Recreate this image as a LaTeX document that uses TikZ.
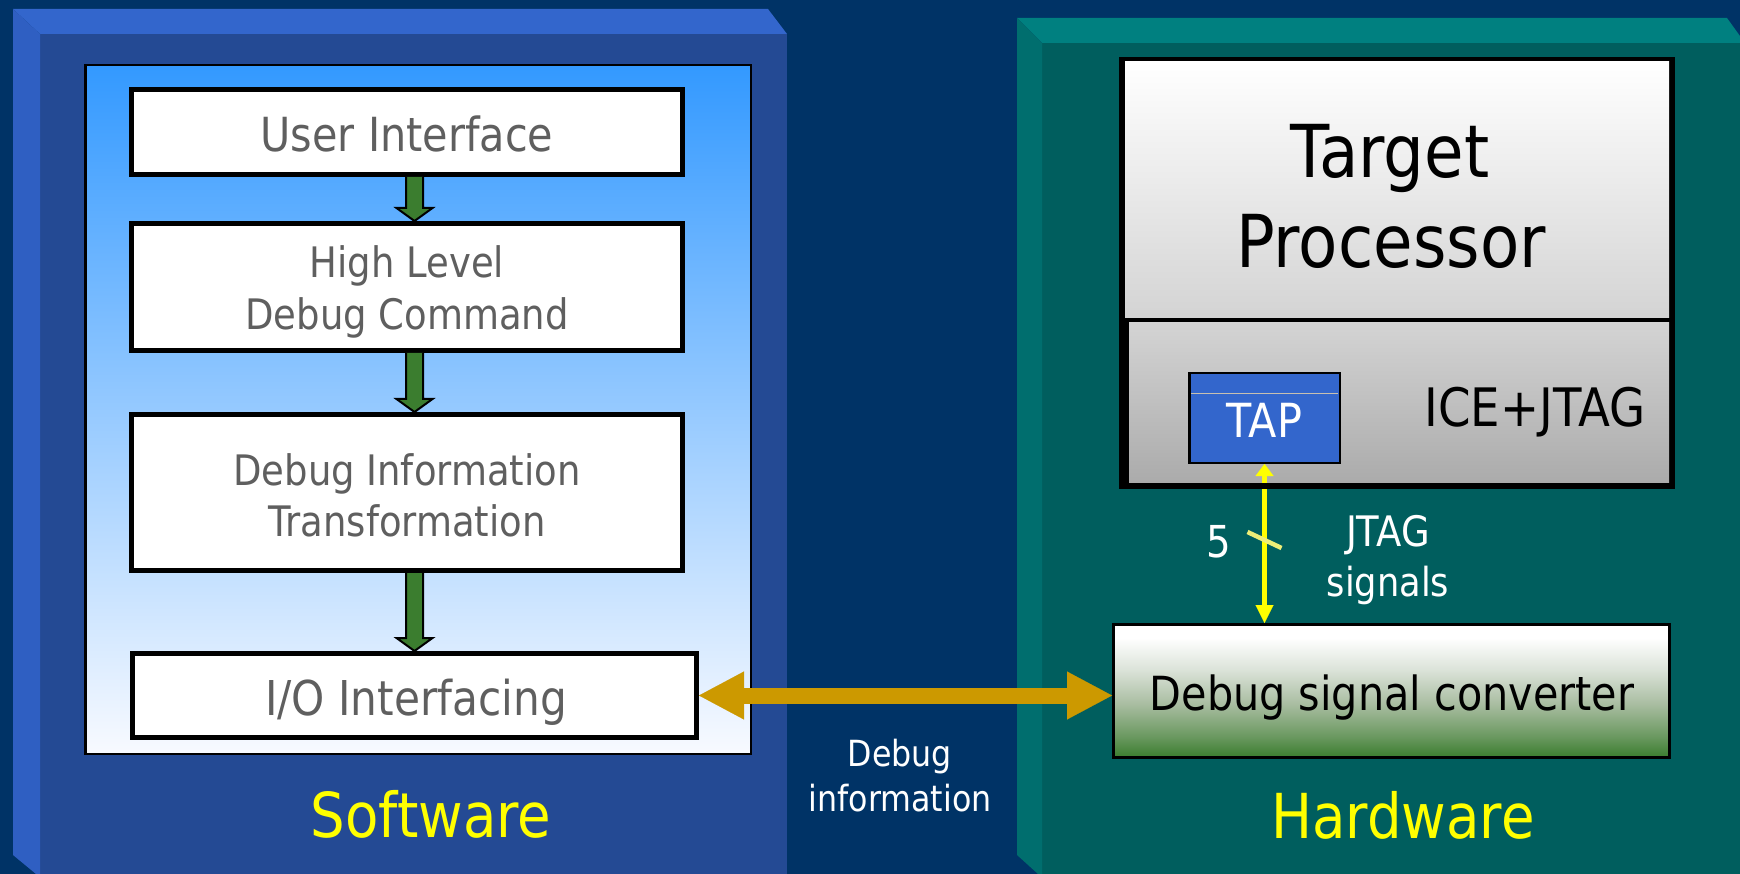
\documentclass[tikz,border=0pt]{standalone}
\usepackage{fontspec}
\setmainfont{DejaVu Sans}[FakeStretch=0.88]
\usetikzlibrary{arrows.meta,calc}

% palette
\definecolor{navy}{HTML}{003366}
\definecolor{swface}{HTML}{244A94}
\definecolor{swtop}{HTML}{3366CC}
\definecolor{swside}{HTML}{2F5FC2}
\definecolor{hwface}{HTML}{005E5E}
\definecolor{hwtop}{HTML}{008080}
\definecolor{hwside}{HTML}{006E6E}
\definecolor{skyblue}{HTML}{3399FF}
\definecolor{paleblue}{HTML}{F8FAFF}
\definecolor{boxtext}{HTML}{5F5F5F}
\definecolor{flowgreen}{HTML}{3B7D2F}
\definecolor{gold}{HTML}{CC9900}
\definecolor{tapblue}{HTML}{3366CC}
\definecolor{tickyellow}{HTML}{EEEE77}
\definecolor{tapline}{HTML}{C8C0B0}
\definecolor{labelyellow}{HTML}{FFFF00}

% white-to-green fill of the converter block
\pgfdeclareverticalshading{convshade}{100bp}{%
  rgb(0bp)=(0.227,0.490,0.180);
  rgb(25bp)=(0.227,0.490,0.180);
  rgb(33bp)=(0.42,0.60,0.38);
  rgb(45bp)=(0.66,0.74,0.63);
  rgb(58bp)=(0.86,0.89,0.85);
  rgb(70bp)=(1,1,1);
  rgb(100bp)=(1,1,1)}

\tikzset{
  swbox/.style={draw=black, line width=5pt, fill=white, inner sep=0pt},
  boxlbl/.style={anchor=base, inner sep=0pt, text=boxtext},
  whitelbl/.style={anchor=base, inner sep=0pt, text=white},
  blacklbl/.style={anchor=base, inner sep=0pt, text=black},
  titlelbl/.style={anchor=base, inner sep=0pt, text=labelyellow,
    font=\fontsize{62}{70}\selectfont},
  flowarrow/.style={draw=black, line width=2pt, fill=flowgreen, line join=miter},
  busarrow/.style={draw=gold, line width=16pt,
    arrows={Triangle[length=45pt,width=48pt,line width=0.1pt]-Triangle[length=45pt,width=48pt,line width=0.1pt]}},
  jtagarrow/.style={draw=labelyellow, line width=5pt,
    arrows={Triangle[length=12pt,width=18pt,line width=0.1pt]-Triangle[length=18pt,width=18pt,line width=0.1pt]}},
}

% green block arrow between two stacked boxes, on the axis of the I/O box
\newcommand\flowstep[2]{%
  \draw[flowarrow]
    ($(#1.south -| io.north)+(-8.5,0)$) --
    ($(#2.north -| io.north)+(-8.5,-13)$) --
    ($(#2.north -| io.north)+(-18,-13)$) --
    (#2.north -| io.north) --
    ($(#2.north -| io.north)+(18,-13)$) --
    ($(#2.north -| io.north)+(8.5,-13)$) --
    ($(#1.south -| io.north)+(8.5,0)$);}

\begin{document}
\begin{tikzpicture}[x=1pt, y=-1pt]
\useasboundingbox (0,0) rectangle (1740,874);
\fill[navy] (0,0) rectangle (1740,874);

% ---------- Software panel ----------
\fill[swface] (40,34) rectangle (787,874);
\fill[swtop] (13,9) -- (768,9) -- (787,34) -- (40,34) -- cycle;
\fill[swside] (13,9) -- (40,34) -- (40,874) -- (36,874) -- (13,855) -- cycle;

\node[draw=black, line width=2.5pt, top color=skyblue, bottom color=paleblue,
      minimum width=665.5pt, minimum height=688.5pt, inner sep=0pt]
  (swin) at (418,409.5) {};

\node[swbox, minimum width=551pt, minimum height=85pt]  (ui)  at (407,132) {};
\node[swbox, minimum width=551pt, minimum height=127pt] (hl)  at (407,287) {};
\node[swbox, minimum width=551pt, minimum height=156pt] (dit) at (407,492.5) {};
\node[swbox, minimum width=564pt, minimum height=84pt]  (io)  at (414.5,695.5) {};

\node[boxlbl, font=\fontsize{47}{56}\selectfont] (uitext) at (407,152) {User Interface};
\node[boxlbl, font=\fontsize{42}{50}\selectfont] (hltext1) at (407,278) {High Level};
\node[boxlbl, font=\fontsize{42}{50}\selectfont] (hltext2) at (407,330) {Debug Command};
\node[boxlbl, font=\fontsize{42}{50}\selectfont] (dittext1) at (407,485) {Debug Information};
\node[boxlbl, font=\fontsize{42}{50}\selectfont] (dittext2) at (407,536) {Transformation};
\node[boxlbl, font=\fontsize{48}{56}\selectfont] (iotext) at (416,715) {I/O Interfacing};

\flowstep{ui}{hl}
\flowstep{hl}{dit}
\flowstep{dit}{io}

\node[titlelbl] (swtitle) at (431,837) {Software};

% ---------- Hardware panel ----------
\fill[hwface] (1042,43) rectangle (1745,874);
\fill[hwtop] (1017,18) -- (1727,18) -- (1745,43) -- (1042,43) -- cycle;
\fill[hwside] (1017,18) -- (1042,43) -- (1042,874) -- (1038,874) -- (1017,855) -- cycle;

\node[fill=black, minimum width=556pt, minimum height=432pt, inner sep=0pt]
  (tpframe) at (1397,273) {};
\node[top color=white, bottom color=black!17, minimum width=544pt,
      minimum height=256pt, inner sep=0pt] (tpup) at (1397,190) {};
\node[top color=black!17, bottom color=black!33, minimum width=540pt,
      minimum height=160pt, inner sep=0pt] (ice) at (1399,403) {};

\node[blacklbl, font=\fontsize{73}{80}\selectfont] (tptext1) at (1390,178) {Target};
\node[blacklbl, font=\fontsize{73}{80}\selectfont] (tptext2) at (1391,268) {Processor};
\node[blacklbl, font=\fontsize{53}{60}\selectfont] (icetext) at (1535,426) {ICE+JTAG};

\node[draw=black, line width=2.5pt, fill=tapblue, minimum width=150.5pt,
      minimum height=89.5pt, inner sep=0pt] (tap) at (1264.5,418) {};
\draw[tapline, line width=1pt] ($(tap.north west)+(3,22)$) -- ($(tap.north east)+(-3,22)$);
\node[whitelbl, font=\fontsize{47}{56}\selectfont] (taptext) at (1264.5,437) {TAP};

\node[draw=black, line width=3pt, shading=convshade, minimum width=556pt,
      minimum height=133pt, inner sep=0pt] (conv) at (1391.5,691) {};
\node[blacklbl, font=\fontsize{47}{56}\selectfont] (convtext) at (1392,710) {Debug signal converter};

% JTAG link with its bus-width mark
\draw[jtagarrow] (tap.south) -- coordinate[pos=0.478] (tick) (tap.south |- conv.north);
\fill[black] (tpframe.south west) rectangle ($(tpframe.south east)+(0,-6)$);
\draw[tickyellow, line width=4.5pt] ($(tick)+(-17,-8)$) -- ($(tick)+(17,8)$);
\node[whitelbl, font=\fontsize{44}{50}\selectfont] (buswidth) at (1219,557) {5};
\node[whitelbl, font=\fontsize{42}{50}\selectfont] (jtagtext1) at (1388,546) {JTAG};
\node[whitelbl, font=\fontsize{40}{50}\selectfont] (jtagtext2) at (1388,596) {signals};

\node[titlelbl] (hwtitle) at (1403,838) {Hardware};

% ---------- link between the two sides ----------
\draw[busarrow] (io.east) -- (io.east -| conv.west);
\node[whitelbl, font=\fontsize{36}{45}\selectfont] (dbgtext1) at (900,766) {Debug};
\node[whitelbl, font=\fontsize{36}{45}\selectfont] (dbgtext2) at (900,811) {information};
\end{tikzpicture}
\end{document}
